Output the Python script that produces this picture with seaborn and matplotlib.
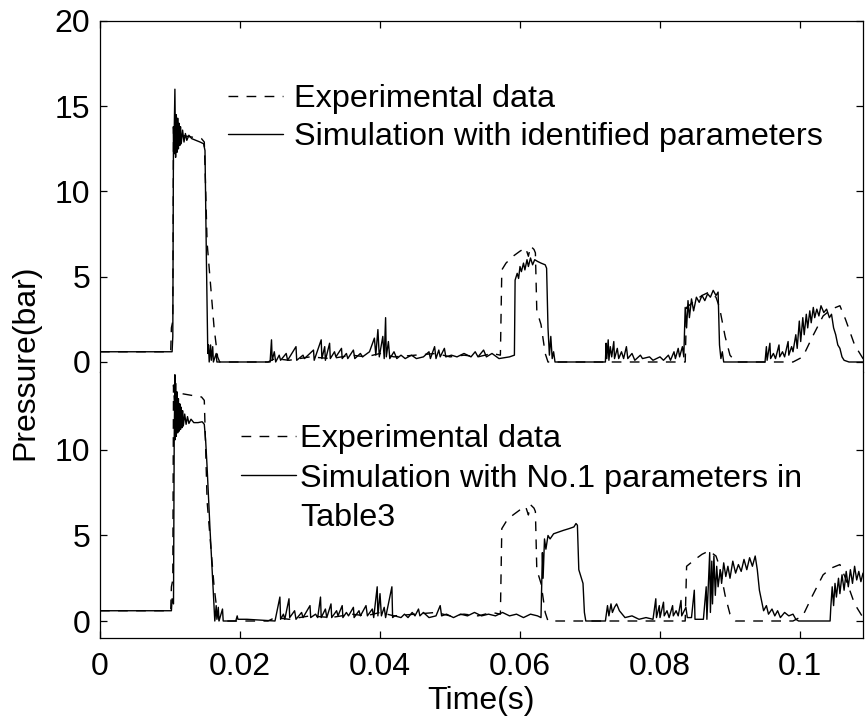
import matplotlib.pyplot as plt
import pandas as pd
import seaborn as sns
from matplotlib.lines import Line2D

# experimental pressure trace (same measurement in both panels)
exp_time = [
    0.0, 0.0101, 0.0102, 0.0104, 0.0105, 0.0107, 0.0109, 0.0112,
    0.0116, 0.0130, 0.0145, 0.0149, 0.0151, 0.0153, 0.0158, 0.0163,
    0.0168, 0.0171, 0.0240, 0.0250, 0.0270, 0.0300, 0.0330, 0.0360,
    0.0380, 0.0400, 0.0420, 0.0450, 0.0480, 0.0500, 0.0520, 0.0540,
    0.0560, 0.0572, 0.0574, 0.0580, 0.0590, 0.0600, 0.0608, 0.0612,
    0.0615, 0.0620, 0.0622, 0.0624, 0.0630, 0.0636, 0.0640, 0.0836,
    0.0838, 0.0850, 0.0860, 0.0870, 0.0880, 0.0885, 0.0893, 0.0900,
    0.0908, 0.0990, 0.1004, 0.1018, 0.1033, 0.1045, 0.1057, 0.1065,
    0.1078, 0.1090, 0.1100,
]
exp_pressure = [
    0.6, 0.6, 2.0, 2.4, 13.8, 12.3, 13.0, 13.2,
    13.3, 13.2, 13.1, 12.9, 10.0, 7.0, 4.5, 2.0,
    0.3, 0.0, 0.0, 0.2, 0.1, 0.3, 0.2, 0.4,
    0.3, 0.5, 0.3, 0.4, 0.5, 0.3, 0.4, 0.3,
    0.5, 0.4, 5.4, 5.8, 6.2, 6.5, 6.7, 6.2,
    6.8, 6.6, 6.4, 3.0, 2.2, 0.5, 0.0, 0.0,
    3.2, 3.6, 3.9, 4.1, 3.8, 3.2, 1.5, 0.4,
    0.0, 0.0, 0.3, 1.5, 2.7, 3.1, 3.3, 2.5,
    1.0, 0.2, 0.1,
]

# simulation with identified parameters (top panel)
sim_id_time = [
    0.0, 0.0103, 0.0104, 0.0105, 0.01055, 0.0107, 0.0108, 0.0109,
    0.0110, 0.0111, 0.0112, 0.0113, 0.0114, 0.0115, 0.0116, 0.0118,
    0.0120, 0.0122, 0.0124, 0.0127, 0.0131, 0.0137, 0.0143, 0.0148,
    0.0150, 0.0152, 0.0154, 0.0155, 0.0156, 0.0158, 0.0159, 0.0161,
    0.0162, 0.0166, 0.0167, 0.0243, 0.0245, 0.0246, 0.0249, 0.0251,
    0.0256, 0.0258, 0.0266, 0.0268, 0.0280, 0.0281, 0.0290, 0.0292,
    0.0305, 0.0306, 0.0316, 0.0317, 0.0321, 0.0322, 0.0328, 0.0329,
    0.0335, 0.0337, 0.0345, 0.0346, 0.0352, 0.0354, 0.0362, 0.0364,
    0.0372, 0.0375, 0.0385, 0.0392, 0.0394, 0.0397, 0.0399, 0.0404,
    0.0406, 0.0408, 0.0409, 0.0412, 0.0414, 0.0420, 0.0424, 0.0430,
    0.0436, 0.0445, 0.0452, 0.0462, 0.0470, 0.0472, 0.0478, 0.0480,
    0.0484, 0.0486, 0.0492, 0.0494, 0.0502, 0.0510, 0.0520, 0.0530,
    0.0536, 0.0540, 0.0548, 0.0552, 0.0560, 0.0570, 0.0585, 0.0592,
    0.0593, 0.0596, 0.0598, 0.0600, 0.0602, 0.0605, 0.0607, 0.0610,
    0.0612, 0.0615, 0.0618, 0.0621, 0.0625, 0.0630, 0.0636, 0.0638,
    0.0640, 0.0642, 0.0644, 0.0646, 0.0648, 0.0650, 0.0722, 0.0723,
    0.0724, 0.0726, 0.0727, 0.0729, 0.0731, 0.0734, 0.0735, 0.0739,
    0.0741, 0.0745, 0.0748, 0.0752, 0.0754, 0.0760, 0.0764, 0.0772,
    0.0775, 0.0785, 0.0790, 0.0800, 0.0805, 0.0812, 0.0815, 0.0820,
    0.0822, 0.0826, 0.0828, 0.0832, 0.0834, 0.0836, 0.0838, 0.0840,
    0.0842, 0.0845, 0.0848, 0.0852, 0.0856, 0.0860, 0.0864, 0.0868,
    0.0872, 0.0876, 0.0880, 0.0883, 0.0885, 0.0887, 0.0889, 0.0891,
    0.0950, 0.0952, 0.0953, 0.0957, 0.0958, 0.0962, 0.0965, 0.0970,
    0.0971, 0.0975, 0.0978, 0.0983, 0.0984, 0.0988, 0.0990, 0.0994,
    0.0996, 0.0999, 0.1001, 0.1004, 0.1006, 0.1009, 0.1011, 0.1014,
    0.1016, 0.1019, 0.1021, 0.1024, 0.1027, 0.1030, 0.1034, 0.1038,
    0.1042, 0.1045, 0.1048, 0.1051, 0.1054, 0.1057, 0.1060, 0.1063,
    0.1070, 0.1100,
]
sim_id_pressure = [
    0.6, 0.6, 1.5, 13.8, 12.2, 16.0, 12.0, 14.5,
    12.3, 14.3, 12.5, 14.0, 12.7, 13.8, 12.8, 13.6,
    12.9, 13.4, 13.0, 13.3, 13.1, 13.0, 12.9, 12.8,
    12.4, 6.0, 0.5, 1.0, 0.0, 1.0, 0.1, 0.9,
    0.0, 0.5, 0.0, 0.0, 1.3, 0.1, 0.6, 0.0,
    0.4, 0.1, 0.5, 0.1, 0.9, 0.1, 0.4, 0.2,
    0.7, 0.1, 1.3, 0.2, 0.9, 0.1, 1.1, 0.2,
    0.6, 0.3, 0.8, 0.2, 0.5, 0.2, 0.7, 0.2,
    0.5, 0.3, 0.6, 1.4, 0.4, 1.9, 0.3, 1.5,
    0.2, 2.6, 0.3, 1.2, 0.2, 0.6, 0.2, 0.4,
    0.2, 0.4, 0.2, 0.3, 0.6, 0.2, 0.9, 0.2,
    0.7, 0.3, 0.8, 0.3, 0.4, 0.3, 0.5, 0.3,
    0.6, 0.3, 0.7, 0.3, 0.5, 0.2, 0.3, 0.4,
    4.8, 5.2, 4.9, 5.6, 5.3, 5.8, 5.4, 6.0,
    5.6, 6.1, 5.7, 6.0, 5.9, 5.8, 5.7, 5.5,
    2.0, 0.4, 1.5, 0.2, 0.6, 0.0, 0.0, 1.1,
    0.2, 1.3, 0.1, 0.9, 0.3, 1.2, 0.2, 0.8,
    0.2, 0.6, 0.2, 0.9, 0.2, 0.5, 0.1, 0.4,
    0.2, 0.3, 0.1, 0.3, 0.1, 0.4, 0.1, 0.6,
    0.2, 0.8, 0.3, 0.9, 0.3, 3.2, 2.0, 3.6,
    2.6, 3.7, 3.0, 3.8, 3.5, 3.9, 3.6, 4.0,
    3.8, 4.2, 3.9, 4.1, 1.0, 0.2, 0.6, 0.0,
    0.0, 0.9, 0.1, 1.1, 0.2, 0.5, 0.2, 1.0,
    0.3, 0.6, 0.3, 1.2, 0.4, 0.9, 0.6, 1.6,
    0.8, 2.4, 1.2, 2.6, 1.6, 2.8, 2.0, 3.0,
    2.3, 3.2, 2.6, 3.1, 2.7, 3.3, 2.9, 3.1,
    2.6, 2.8, 2.0, 1.6, 1.0, 0.8, 0.3, 0.1,
    0.0, 0.0,
]

# simulation with No.1 parameters in Table3 (bottom panel)
sim_no1_time = [
    0.0, 0.0102, 0.0103, 0.0105, 0.0106, 0.0107, 0.01075, 0.0108,
    0.0109, 0.0110, 0.0111, 0.0112, 0.0113, 0.0114, 0.0115, 0.0116,
    0.0117, 0.0118, 0.0119, 0.0121, 0.0123, 0.0125, 0.0127, 0.0130,
    0.0134, 0.0140, 0.0146, 0.0149, 0.0151, 0.0153, 0.0157, 0.0162,
    0.0164, 0.0166, 0.0167, 0.0169, 0.0170, 0.0175, 0.0176, 0.0194,
    0.0196, 0.0197, 0.0210, 0.0250, 0.0257, 0.0258, 0.0262, 0.0264,
    0.0270, 0.0271, 0.0278, 0.0280, 0.0288, 0.0290, 0.0300, 0.0301,
    0.0308, 0.0311, 0.0315, 0.0316, 0.0322, 0.0324, 0.0330, 0.0331,
    0.0338, 0.0340, 0.0346, 0.0347, 0.0352, 0.0355, 0.0362, 0.0363,
    0.0370, 0.0372, 0.0380, 0.0382, 0.0389, 0.0391, 0.0396, 0.0397,
    0.0400, 0.0402, 0.0406, 0.0408, 0.0417, 0.0418, 0.0421, 0.0430,
    0.0435, 0.0440, 0.0446, 0.0450, 0.0455, 0.0457, 0.0462, 0.0470,
    0.0480, 0.0486, 0.0488, 0.0495, 0.0505, 0.0515, 0.0525, 0.0535,
    0.0545, 0.0555, 0.0565, 0.0575, 0.0585, 0.0595, 0.0605, 0.0615,
    0.0625, 0.0630, 0.0632, 0.0633, 0.0635, 0.0637, 0.0640, 0.0643,
    0.0648, 0.0655, 0.0662, 0.0670, 0.0677, 0.0680, 0.0682, 0.0684,
    0.0687, 0.0690, 0.0692, 0.0694, 0.0722, 0.0725, 0.0727, 0.0730,
    0.0732, 0.0735, 0.0738, 0.0742, 0.0746, 0.0750, 0.0760, 0.0770,
    0.0780, 0.0790, 0.0794, 0.0795, 0.0799, 0.0800, 0.0805, 0.0806,
    0.0810, 0.0813, 0.0818, 0.0819, 0.0823, 0.0826, 0.0830, 0.0831,
    0.0837, 0.0839, 0.0845, 0.0849, 0.0850, 0.0862, 0.0866, 0.0867,
    0.0871, 0.0872, 0.0874, 0.0875, 0.0877, 0.0879, 0.0881, 0.0883,
    0.0886, 0.0888, 0.0891, 0.0894, 0.0897, 0.0900, 0.0904, 0.0908,
    0.0912, 0.0916, 0.0920, 0.0924, 0.0928, 0.0932, 0.0936, 0.0939,
    0.0942, 0.0945, 0.0948, 0.0952, 0.0955, 0.0960, 0.0964, 0.0968,
    0.0972, 0.0978, 0.0984, 0.0990, 0.0994, 0.0998, 0.1043, 0.1044,
    0.1046, 0.1048, 0.1050, 0.1052, 0.1055, 0.1057, 0.1060, 0.1063,
    0.1066, 0.1069, 0.1072, 0.1075, 0.1078, 0.1081, 0.1084, 0.1087,
    0.1090,
]
sim_no1_pressure = [
    0.6, 0.6, 1.3, 1.0, 10.5, 14.4, 10.6, 13.9,
    10.8, 13.4, 11.0, 13.0, 11.1, 12.7, 11.2, 12.5,
    11.3, 12.3, 11.4, 12.1, 11.5, 11.95, 11.55, 11.8,
    11.6, 11.6, 11.65, 11.5, 10.5, 9.0, 5.5, 1.6,
    0.0, 0.9, 0.1, 0.8, 0.0, 0.7, 0.0, 0.0,
    0.3, 0.1, 0.1, 0.0, 1.4, 0.1, 0.4, 0.1,
    1.3, 0.2, 0.6, 0.1, 0.5, 0.2, 0.9, 0.2,
    0.4, 0.2, 1.4, 0.2, 0.7, 0.2, 1.0, 0.2,
    0.6, 0.3, 0.9, 0.2, 0.5, 0.3, 0.8, 0.2,
    0.6, 0.3, 0.9, 0.3, 0.7, 0.2, 2.0, 0.3,
    1.6, 0.3, 0.8, 0.2, 2.0, 0.2, 0.3, 0.2,
    0.4, 0.2, 0.5, 0.3, 0.7, 0.3, 0.5, 0.2,
    0.3, 0.9, 0.3, 0.4, 0.2, 0.4, 0.3, 0.5,
    0.3, 0.4, 0.3, 0.5, 0.3, 0.4, 0.2, 0.4,
    0.3, 0.2, 4.0, 2.5, 4.8, 4.2, 5.0, 4.8,
    5.1, 5.2, 5.3, 5.4, 5.5, 5.7, 5.6, 3.0,
    2.6, 2.2, 0.5, 0.0, 0.0, 0.9, 0.3, 1.0,
    0.5, 0.8, 1.0, 0.6, 0.4, 0.2, 0.3, 0.1,
    0.2, 0.1, 1.3, 0.2, 0.9, 0.2, 1.1, 0.3,
    0.6, 0.2, 0.9, 0.3, 0.6, 0.3, 1.2, 0.3,
    0.8, 0.2, 0.2, 1.8, 0.1, 0.1, 2.0, 0.1,
    4.0, 0.5, 3.5, 1.0, 3.8, 1.5, 3.2, 2.0,
    3.0, 2.2, 3.4, 2.6, 3.2, 2.5, 3.5, 2.8,
    3.3, 2.9, 3.6, 3.0, 3.7, 3.2, 3.8, 3.0,
    1.8, 1.2, 0.6, 0.9, 0.4, 0.7, 0.3, 0.6,
    0.2, 0.5, 0.3, 0.4, 0.1, 0.0, 0.0, 0.8,
    2.0, 0.9, 2.2, 1.4, 2.5, 1.6, 2.7, 1.8,
    2.9, 2.0, 3.0, 2.2, 3.2, 2.4, 2.9, 2.3,
    2.8,
]

x_ticks = [0, 0.02, 0.04, 0.06, 0.08, 0.1]
x_tick_labels = ["0", "0.02", "0.04", "0.06", "0.08", "0.1"]
top_y_ticks = [0, 5, 10, 15, 20]
bottom_y_ticks = [0, 5, 10]

FS = 23
LEG_FS = 23.3
LW = 1.0
DASH = (7, 6)


def draw_pair(ax, sim_time, sim_pressure, sim_label):
  exp_df = pd.DataFrame({"time": exp_time, "pressure": exp_pressure})
  sim_df = pd.DataFrame({"time": sim_time, "pressure": sim_pressure})
  sns.lineplot(data=exp_df, x="time", y="pressure", ax=ax, estimator=None,
               sort=False, color="black", lw=LW, linestyle="--",
               label="Experimental data")
  exp_line = ax.lines[-1]
  exp_line.set_dashes(DASH)
  sns.lineplot(data=sim_df, x="time", y="pressure", ax=ax, estimator=None,
               sort=False, color="black", lw=LW, label=sim_label)
  sim_line = ax.lines[-1]
  ax.set(xlabel="", ylabel="")
  return exp_line, sim_line


def style_axis(ax, top):
  ax.set_xlim(0, 0.109)
  ax.set_xticks(x_ticks)
  for side in ["left", "right", "top", "bottom"]:
    ax.spines[side].set_linewidth(0.9)
    ax.spines[side].set_color("black")
  ax.tick_params(axis="both", direction="in", length=5, width=0.9,
                 labelsize=FS, colors="black", labelcolor="black")
  ax.tick_params(axis="y", left=True, right=True, pad=7)
  if top:
    ax.spines["bottom"].set_visible(False)
    ax.tick_params(axis="x", bottom=False, top=True, labelbottom=False)
  else:
    ax.spines["top"].set_visible(False)
    ax.tick_params(axis="x", bottom=True, top=False, pad=10)
    ax.set_xticklabels(x_tick_labels)


def main():
  sns.set_style("ticks")
  plt.rcParams["font.family"] = ["Liberation Sans", "DejaVu Sans"]
  plt.rcParams["text.color"] = "black"
  plt.rcParams["axes.labelcolor"] = "black"
  plt.rcParams["legend.labelcolor"] = "black"

  fig = plt.figure(figsize=(8.65, 7.24), dpi=100)
  left, width = 100 / 865, 763 / 865
  ax_top = fig.add_axes([left, 1 - 372 / 724, width, 351 / 724])
  ax_bot = fig.add_axes([left, 1 - 638 / 724, width, 266 / 724])

  e1, s1 = draw_pair(ax_top, sim_id_time, sim_id_pressure,
                     "Simulation with identified parameters")
  e2, s2 = draw_pair(ax_bot, sim_no1_time, sim_no1_pressure,
                     "Simulation with No.1 parameters in")

  style_axis(ax_top, top=True)
  style_axis(ax_bot, top=False)
  ax_top.set_ylim(-0.587, 20)
  ax_top.set_yticks(top_y_ticks)
  ax_bot.set_ylim(-0.994, 14.56)
  ax_bot.set_yticks(bottom_y_ticks)

  ax_top.legend(handles=[e1, s1],
                labels=["Experimental data",
                        "Simulation with identified parameters"],
                loc="upper left", bbox_to_anchor=(0.168, 0.82),
                frameon=False, fontsize=LEG_FS, borderpad=0, borderaxespad=0,
                handlelength=1.7, handletextpad=0.33, labelspacing=0.25)

  blank = Line2D([], [], color="none")
  ax_bot.legend(handles=[e2, s2, blank],
                labels=["Experimental data",
                        "Simulation with No.1 parameters in", "Table3"],
                loc="upper left", bbox_to_anchor=(0.185, 0.805),
                frameon=False, fontsize=LEG_FS, borderpad=0, borderaxespad=0,
                handlelength=1.7, handletextpad=0.12, labelspacing=0.3)

  ax_bot.set_xlabel("Time(s)", fontsize=FS, labelpad=3)
  fig.text(0.029, 0.5, "Pressure(bar)", rotation=90, va="center",
           ha="center", fontsize=FS)

  fig.savefig("out.png", dpi=100)
  plt.close(fig)


if __name__ == "__main__":
  main()
